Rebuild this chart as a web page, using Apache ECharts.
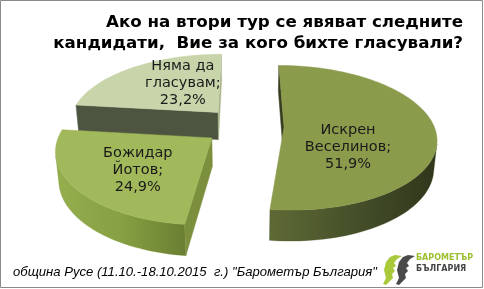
<!DOCTYPE html>
<html><head><meta charset="utf-8">
<script src="https://cdn.jsdelivr.net/npm/echarts@6/dist/echarts.min.js"></script>
<style>html,body{margin:0;padding:0;background:#fff}#c{width:484px;height:289px}</style>
</head><body><div id="c"></div>
<script>
// ---- data ----
const categories = ['Искрен Веселинов', 'Божидар Йотов', 'Няма да гласувам'];
const labelNames = ['Искрен\nВеселинов;', 'Божидар\nЙотов;', 'Няма да\nгласувам;'];
const values = [51.9, 24.9, 23.2];
const titleText = 'Ако на втори тур се явяват следните\nкандидати,  Вие за кого бихте гласували?';
const footerText = 'община Русе (11.10.-18.10.2015  г.) "Барометър България"';
const logoLine1 = 'БАРОМЕТЪР';
const logoLine2 = 'БЪЛГАРИЯ';

// ---- styles ----
const topColors = ['#8a9b4c', '#a1b85b', '#c8d4aa'];
const sideStops = [
  ['#5e6a35', '#46502a', '#2f361b'],
  ['#95ae4e', '#86a042', '#6a7e32'],
  ['#7d8a60', '#6a7650', '#5a6444']
];
const radialColors = [['#353d1e', '#3e4622'], ['#7b8f3c', '#6f8336'], ['#4d5541', '#a9b58a']];
const labelPolar = [[72, 124], [90, 227], [81, 330]];
const G = {cx: 244, cy: 126, R: 150, e: 40, H: 32, tilt: 28, F: 900};

const D2R = Math.PI / 180;
const phi = G.tilt * D2R, cp = Math.cos(phi), sp = Math.sin(phi);
const camZ = -G.F * cp;
function proj(x, y, z) {
  const zc = z * cp - y * sp;
  const s = G.F / (G.F + zc);
  return [G.cx + x * s, G.cy - (y * cp + z * sp) * s];
}
const total = values.reduce((a, b) => a + b, 0);
const starts = [];
{ let acc = 0; values.forEach(v => { starts.push(acc / total * 360); acc += v; }); }
const depth = values.map((v, i) => {
  const bis = (starts[i] + v / total * 180) * D2R;
  return G.e * Math.cos(bis);
});
const order = depth.map((d, i) => i).sort((a, b) => depth[b] - depth[a]);
const rank = []; order.forEach((idx, r) => rank[idx] = r);

function hGrad(stops) {
  return {type: 'linear', x: 0, y: 0, x2: 1, y2: 0, global: false,
    colorStops: stops.map((c, k) => ({offset: k / (stops.length - 1), color: c}))};
}

function renderItem(params, api) {
  const i = params.dataIndex;
  const v = api.value(0);
  const a0 = starts[i], a1 = a0 + v / total * 360;
  const bis = (a0 + a1) / 2 * D2R;
  const ox = G.e * Math.sin(bis), oz = G.e * Math.cos(bis);
  const N = Math.max(12, Math.ceil((a1 - a0) / 2));
  const rim = [];
  for (let k = 0; k <= N; k++) {
    const th = (a0 + (a1 - a0) * k / N) * D2R;
    rim.push([ox + G.R * Math.sin(th), oz + G.R * Math.cos(th), th]);
  }
  const base = rank[i] * 10;
  const children = [];
  const faces = [
    {p: rim[0], nx: -Math.cos(a0 * D2R), nz: Math.sin(a0 * D2R), c: radialColors[i][0]},
    {p: rim[N], nx: Math.cos(a1 * D2R), nz: -Math.sin(a1 * D2R), c: radialColors[i][1]}
  ];
  faces.forEach(f => {
    const dot = f.nx * (0 - ox) + f.nz * (camZ - oz);
    if (dot > 0) {
      children.push({type: 'polygon', z2: base + 1,
        shape: {points: [proj(ox, 0, oz), proj(f.p[0], 0, f.p[1]), proj(f.p[0], -G.H, f.p[1]), proj(ox, -G.H, oz)]},
        style: {fill: f.c, stroke: f.c, lineWidth: 0.5}});
    }
  });
  let run = null;
  const runs = [];
  for (let k = 0; k < N; k++) {
    const th = (rim[k][2] + rim[k + 1][2]) / 2;
    const px = ox + G.R * Math.sin(th), pz = oz + G.R * Math.cos(th);
    const dot = Math.sin(th) * (0 - px) + Math.cos(th) * (camZ - pz);
    if (dot > 0) { if (!run) { run = [k, k + 1]; runs.push(run); } else run[1] = k + 1; }
    else run = null;
  }
  runs.forEach(r => {
    const pts = [];
    for (let k = r[0]; k <= r[1]; k++) pts.push(proj(rim[k][0], 0, rim[k][1]));
    for (let k = r[1]; k >= r[0]; k--) pts.push(proj(rim[k][0], -G.H, rim[k][1]));
    children.push({type: 'polygon', z2: base + 2, shape: {points: pts},
      style: {fill: hGrad(sideStops[i]), stroke: sideStops[i][1], lineWidth: 0.3}});
  });
  const topPts = [proj(ox, 0, oz)].concat(rim.map(p => proj(p[0], 0, p[1])));
  children.push({type: 'polygon', z2: base + 5, shape: {points: topPts},
    style: {fill: topColors[i], stroke: topColors[i], lineWidth: 0.5}});
  const la = labelPolar[i][1] * D2R;
  const lp = proj(ox + labelPolar[i][0] * Math.sin(la), 0, oz + labelPolar[i][0] * Math.cos(la));
  children.push({type: 'text', z2: base + 8, x: lp[0], y: lp[1],
    style: {text: labelNames[i] + '\n' + v.toFixed(1).replace('.', ',') + '%',
      fill: '#1a1a1a', fontSize: 14.5, fontFamily: 'DejaVu Sans', align: 'center',
      verticalAlign: 'middle', lineHeight: 17}});
  return {type: 'group', children};
}

const chart = echarts.init(document.getElementById('c'), null, {renderer: 'canvas'});
chart.setOption({
  animation: false,
  series: [{type: 'custom', coordinateSystem: 'none', renderItem,
    data: values.map((v, i) => ({name: categories[i], value: [v]}))}],
  graphic: [
    {type: 'rect', z: 0, shape: {x: 0.5, y: 0.5, width: 482, height: 287},
      style: {fill: 'none', stroke: '#8a8a8a', lineWidth: 1}},
    {type: 'text', x: 463, y: 12, z: 10,
      style: {text: titleText, fill: '#000', fontSize: 16.7, fontWeight: 'bold',
        fontFamily: 'DejaVu Sans', align: 'right', verticalAlign: 'top', lineHeight: 21}},
    {type: 'text', x: 13, y: 272, z: 10,
      style: {text: footerText, fill: '#000', fontSize: 13.1, fontStyle: 'italic',
        fontFamily: 'Liberation Sans', align: 'left', verticalAlign: 'middle'}},
    {type: 'polygon', z: 10, shape: {points: [[395,255],[402,256],[397,259],[394,263],[396,266],[393,268],[395,271],[392,274],[393,278],[389,282],[386,285],[383,284],[386,278],[384,270],[386,262],[390,257]]},
      style: {fill: '#a9c83a'}},
    {type: 'polygon', z: 10, shape: {points: [[408,255],[415,256],[410,259],[407,263],[409,266],[406,268],[408,271],[405,274],[406,278],[402,282],[399,285],[396,284],[399,278],[397,270],[399,262],[403,257]]},
      style: {fill: '#4a4a4a'}},
    {type: 'text', x: 416, y: 258, z: 10,
      style: {text: logoLine1, fill: '#9cbf2e', fontSize: 8, fontWeight: 'bold',
        fontFamily: 'DejaVu Sans', align: 'left', verticalAlign: 'middle'}},
    {type: 'text', x: 416, y: 269, z: 10,
      style: {text: logoLine2, fill: '#444', fontSize: 8, fontWeight: 'bold',
        fontFamily: 'DejaVu Sans', align: 'left', verticalAlign: 'middle'}}
  ]
});
</script></body></html>
